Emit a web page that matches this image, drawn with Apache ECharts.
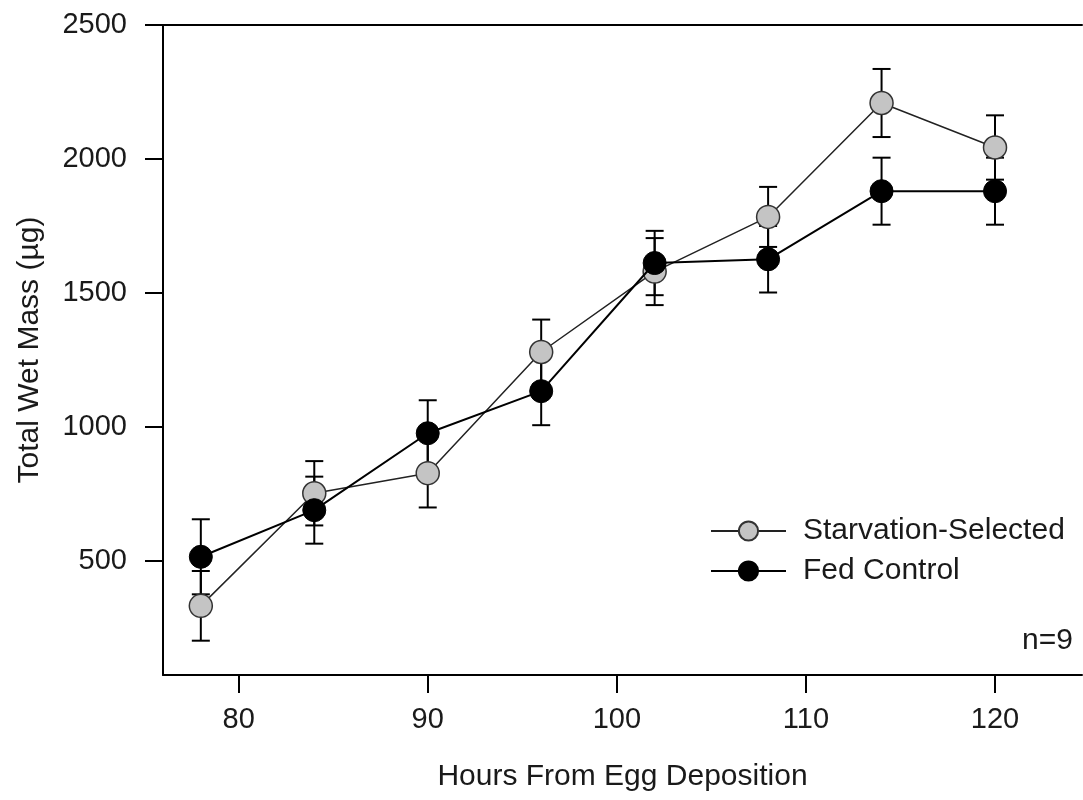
<!DOCTYPE html>
<html>
<head>
<meta charset="utf-8">
<script src="https://cdn.jsdelivr.net/npm/echarts@6/dist/echarts.min.js"></script>
<style>
  html, body { margin: 0; padding: 0; background: #fff; }
  #chart { width: 1083px; height: 800px; }
</style>
</head>
<body>
<div id="chart"></div>
<script>
const hours = [78, 84, 90, 96, 102, 108, 114, 120];
const starvMean = [333, 753, 828, 1280, 1580, 1784, 2209, 2043];
const starvErr = [130, 120, 128, 121, 125, 112, 127, 120];
const fedMean = [516, 690, 977, 1134, 1612, 1626, 1880, 1880];
const fedErr = [140, 125, 123, 127, 120, 124, 125, 125];
const xTicks = [80, 90, 100, 110, 120];
const yTicks = [500, 1000, 1500, 2000, 2500];

const FONT = "'Liberation Sans', Arial, sans-serif";
const TXT = '#1a1a1a';

function errData(mean, err) {
  return hours.map((h, i) => [h, mean[i] - err[i], mean[i] + err[i]]);
}
function errRender(params, api) {
  const x = api.value(0);
  const lo = api.coord([x, api.value(1)]);
  const hi = api.coord([x, api.value(2)]);
  const cap = 9;
  const st = { stroke: '#000', lineWidth: 2 };
  return {
    type: 'group',
    children: [
      { type: 'line', shape: { x1: lo[0], y1: lo[1], x2: hi[0], y2: hi[1] }, style: st },
      { type: 'line', shape: { x1: lo[0] - cap, y1: lo[1], x2: lo[0] + cap, y2: lo[1] }, style: st },
      { type: 'line', shape: { x1: hi[0] - cap, y1: hi[1], x2: hi[0] + cap, y2: hi[1] }, style: st }
    ]
  };
}

const chart = echarts.init(document.getElementById('chart'), null, { renderer: 'canvas' });
chart.setOption({
  animation: false,
  backgroundColor: '#fff',
  textStyle: { fontFamily: FONT },
  grid: { left: 163, right: 1, top: 25, bottom: 125 },
  xAxis: [{
    type: 'value', min: 76, max: 124.6, position: 'bottom',
    name: 'Hours From Egg Deposition', nameLocation: 'middle', nameGap: 87,
    nameTextStyle: { fontSize: 30, color: TXT, fontFamily: FONT },
    axisLine: { show: true, onZero: false, lineStyle: { color: '#000', width: 2 } },
    axisTick: { show: true, length: 18, lineStyle: { color: '#000', width: 2 }, customValues: xTicks },
    axisLabel: { fontSize: 29, color: TXT, fontFamily: FONT, margin: 30, customValues: xTicks,
                 formatter: v => String(v) },
    splitLine: { show: false }
  }, {
    type: 'value', min: 76, max: 124.6, position: 'top',
    axisLine: { show: true, onZero: false, lineStyle: { color: '#000', width: 2 } },
    axisTick: { show: false }, axisLabel: { show: false }, splitLine: { show: false }
  }],
  yAxis: {
    type: 'value', min: 75, max: 2500,
    name: 'Total Wet Mass (\u00b5g)', nameLocation: 'middle', nameGap: 118,
    nameTextStyle: { fontSize: 30, color: TXT, fontFamily: FONT },
    axisLine: { show: true, onZero: false, lineStyle: { color: '#000', width: 2 } },
    axisTick: { show: true, length: 18, lineStyle: { color: '#000', width: 2 }, customValues: yTicks },
    axisLabel: { fontSize: 29, color: TXT, fontFamily: FONT, margin: 36, customValues: yTicks,
                 formatter: v => String(v) },
    splitLine: { show: false }
  },
  legend: {
    data: ['Starvation-Selected', 'Fed Control'],
    orient: 'vertical', left: 705, top: 511,
    itemWidth: 75, itemHeight: 24, itemGap: 10,
    textStyle: { fontSize: 30, color: TXT, fontFamily: FONT, padding: [0, 0, 0, 12] }
  },
  graphic: [{
    type: 'text', right: 10, top: 626,
    style: { text: 'n=9', fontSize: 30, fill: TXT, fontFamily: FONT }
  }],
  series: [
    {
      type: 'custom', name: 'errS', renderItem: errRender, data: errData(starvMean, starvErr),
      encode: { x: 0, y: [1, 2] }, z: 1, silent: true
    },
    {
      type: 'custom', name: 'errF', renderItem: errRender, data: errData(fedMean, fedErr),
      encode: { x: 0, y: [1, 2] }, z: 1, silent: true
    },
    {
      type: 'line', name: 'Starvation-Selected', z: 3,
      data: hours.map((h, i) => [h, starvMean[i]]),
      symbol: 'circle', symbolSize: 23,
      lineStyle: { color: '#222', width: 1.5 },
      itemStyle: { color: '#c4c4c4', borderColor: '#333', borderWidth: 1.5 }
    },
    {
      type: 'line', name: 'Fed Control', z: 4,
      data: hours.map((h, i) => [h, fedMean[i]]),
      symbol: 'circle', symbolSize: 23,
      lineStyle: { color: '#000', width: 2 },
      itemStyle: { color: '#000', borderColor: '#000', borderWidth: 1 }
    }
  ]
});
</script>
</body>
</html>
